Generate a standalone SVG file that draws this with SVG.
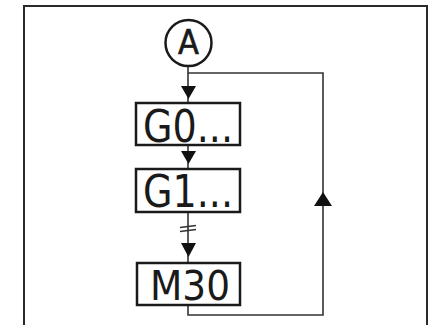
<svg xmlns="http://www.w3.org/2000/svg" width="429" height="325" viewBox="0 0 429 325">
<style>
.frame{fill:none;stroke:#2a2a2a;stroke-width:2}
.box{fill:#fff;stroke:#1a1a1a;stroke-width:2.5}
.conn{fill:none;stroke:#333;stroke-width:1.6}
.lbl{font-family:"DejaVu Sans Condensed","DejaVu Sans","Liberation Sans",sans-serif;fill:#1a1a1a}
.tri{fill:#111}
</style>
<rect width="429" height="325" fill="#fff"/>
<path class="frame" d="M24,325 V6 H427 V325"/>
<g id="connectors">
<line class="conn" x1="188" y1="66" x2="188" y2="103"/>
<line class="conn" x1="188" y1="145" x2="188" y2="169"/>
<line class="conn" x1="188" y1="212" x2="188" y2="263"/>
<path class="conn" d="M188,305 V315 H323 V73 H188"/>
<polygon class="tri" points="181,86 196,86 188.5,99"/>
<polygon class="tri" points="181,151 196,151 188.5,164"/>
<polygon class="tri" points="181,243 196,243 188.5,257"/>
<polygon class="tri" points="314,206 332,206 323,192"/>
<line class="conn" x1="180" y1="227.5" x2="196" y2="225.5" stroke-width="2.2"/>
<line class="conn" x1="180" y1="231.5" x2="196" y2="229.5" stroke-width="2.2"/>
</g>
<g id="nodeA">
<circle cx="188.5" cy="43" r="23" fill="#fff" stroke="#1a1a1a" stroke-width="2.5"/>
<text class="lbl" x="188.5" y="54" font-size="34" text-anchor="middle" stroke="#1a1a1a" stroke-width="0.6">A</text>
</g>
<g id="nodeG0">
<rect class="box" x="136" y="103" width="104" height="42"/>
<text class="lbl" x="143" y="142" font-size="44" textLength="90" lengthAdjust="spacingAndGlyphs">G0...</text>
</g>
<g id="nodeG1">
<rect class="box" x="136" y="169" width="104" height="43"/>
<text class="lbl" x="143" y="207" font-size="44" textLength="90" lengthAdjust="spacingAndGlyphs">G1...</text>
</g>
<g id="nodeM30">
<rect class="box" x="137" y="263" width="103" height="42"/>
<text class="lbl" x="150" y="300" font-size="41" textLength="80" lengthAdjust="spacingAndGlyphs">M30</text>
</g>
</svg>
